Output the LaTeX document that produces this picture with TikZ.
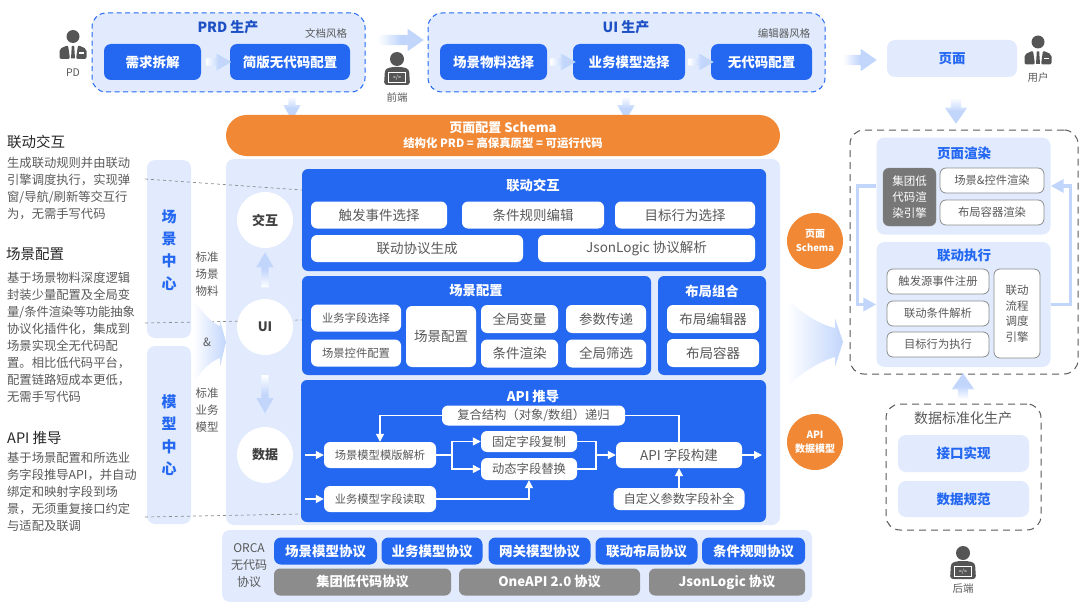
\documentclass[tikz,border=0pt]{standalone}
\usepackage{fontspec}
\setmainfont{Noto Sans CJK SC}
\usetikzlibrary{arrows.meta,shapes.arrows}
\definecolor{mainblue}{HTML}{2468F2}
\definecolor{darkblue}{HTML}{1C50C4}
\definecolor{paleblue}{HTML}{E1EBFD}
\definecolor{flowblue}{HTML}{C2D6FC}
\definecolor{mainorange}{HTML}{F08836}
\definecolor{textgray}{HTML}{595959}
\definecolor{boxgray}{HTML}{8C8C8C}
\definecolor{icongray}{HTML}{555555}
\tikzset{
  base/.style={rectangle,inner sep=0pt,align=center},
  panel/.style={base,rounded corners=8pt,fill=paleblue},
  bluebox/.style={base,rounded corners=7pt,fill=mainblue,text=white,font=\fontsize{13.5}{16}\selectfont\bfseries},
  whitebox/.style={base,rounded corners=6pt,fill=white,text=textgray,font=\fontsize{13.5}{16}\selectfont},
  smallbox/.style={whitebox,font=\fontsize{11.3}{14}\selectfont},
  midbox/.style={whitebox,font=\fontsize{12.3}{15}\selectfont},
  linebox/.style={smallbox,draw=boxgray,line width=0.8pt},
  graybox/.style={base,rounded corners=6pt,fill=boxgray,text=white,font=\fontsize{13.2}{15}\selectfont\bfseries},
  bluepanel/.style={base,rounded corners=6pt,fill=mainblue},
  dashblue/.style={panel,rounded corners=14pt,draw=mainblue,dash pattern=on 5pt off 3.5pt,line width=1pt},
  dashgray/.style={base,rounded corners=14pt,draw=textgray,dash pattern=on 7pt off 5pt,line width=1pt},
  title/.style={inner sep=0pt,text=white,font=\fontsize{13.3}{15}\selectfont\bfseries},
  bluetitle/.style={inner sep=0pt,text=mainblue,font=\fontsize{13.5}{16}\selectfont\bfseries},
  note/.style={inner sep=0pt,align=center,text=textgray,font=\fontsize{10.5}{17}\selectfont},
  lefthead/.style={inner sep=0pt,anchor=west,text=black!85,font=\fontsize{14.5}{17}\selectfont},
  leftbody/.style={inner sep=0pt,anchor=north west,align=left,text=textgray,font=\fontsize{12.3}{17}\selectfont},
  circ/.style={circle,inner sep=0pt,minimum size=56pt,fill=white,text=black!75,font=\fontsize{13}{16}\selectfont\bfseries},
  orangecirc/.style={circle,inner sep=0pt,minimum size=56pt,fill=mainorange,text=white,align=center,font=\fontsize{10}{14}\selectfont\bfseries},
  flow/.style={single arrow,draw=none,inner sep=3.5pt,single arrow head extend=5pt,single arrow tip angle=60},
  wide/.style={inner sep=5pt,single arrow head extend=6pt,single arrow tip angle=70},
  flowright/.style={flow,left color=white,right color=flowblue,middle color=flowblue},
  flowdown/.style={flow,shape border rotate=270,top color=white,bottom color=flowblue,middle color=flowblue},
  flowup/.style={flow,shape border rotate=90,bottom color=white,top color=flowblue,middle color=flowblue},
  leader/.style={draw=boxgray,dashed,line width=0.7pt},
  apiline/.style={draw=white,line width=1.3pt,-{Triangle[length=8pt,width=8pt]}},
  apijoin/.style={draw=white,line width=1.3pt},
  loopline/.style={draw=flowblue,line width=3.5pt,-{Triangle[length=13pt,width=13pt]}},
  suit/.pic={
    \fill[icongray] (0,-8.5) circle (6.5);
    \fill[icongray,rounded corners=2pt] (-13.5,14) -- (-13.5,4) -- (-5,0) -- (-3,14) -- cycle;
    \fill[icongray,rounded corners=2pt] (13.5,14) -- (13.5,4) -- (5,0) -- (3,14) -- cycle;
    \fill[icongray] (-1.2,1) -- (1.2,1) -- (2,13.5) -- (-2,13.5) -- cycle;
    \fill[white] (6,7.5) rectangle (10.5,9);
  },
  coder/.pic={
    \fill[icongray] (0,-11) circle (7);
    \fill[icongray,rounded corners=3pt] (-13,15) -- (-12,-1) -- (-5,-3) -- (5,-3) -- (12,-1) -- (13,15) -- cycle;
    \fill[white] (-9,2) rectangle (9,13);
    \fill[icongray] (-8,3) rectangle (8,12);
    \node[inner sep=0pt,text=white,font=\fontsize{5.5}{6}\selectfont] at (0,7.5) {</>};
  },
}
\begin{document}
\begin{tikzpicture}[x=1pt,y=-1pt]
  \useasboundingbox (0,0) rectangle (1080,602);
  % top row
  \node[dashblue,minimum width=273pt,minimum height=79pt] (prd) at (228.5,52.5) {};
  \node[dashblue,minimum width=397pt,minimum height=79pt] (uibox) at (626.5,52.5) {};
  \node[inner sep=0pt,text=darkblue,font=\fontsize{14}{16}\selectfont\bfseries] (prdtitle) at (228,27) {PRD 生产};
  \node[inner sep=0pt,text=darkblue,font=\fontsize{14}{16}\selectfont\bfseries] (uititle) at (626,27) {UI 生产};
  \node[note] (prdstyle) at (326,33) {文档风格};
  \node[note] (uistyle) at (784,33) {编辑器风格};
  \node[bluebox,minimum width=97pt,minimum height=36pt] (split) at (152.5,62) {需求拆解};
  \node[bluebox,minimum width=120pt,minimum height=36pt] (lite) at (290,62) {简版无代码配置};
  \node[bluebox,minimum width=107pt,minimum height=36pt] (scene) at (493.5,62) {场景物料选择};
  \node[bluebox,minimum width=112pt,minimum height=36pt] (model) at (629,62) {业务模型选择};
  \node[bluebox,minimum width=101pt,minimum height=36pt] (nocode) at (761.5,62) {无代码配置};
  \node[flowright,minimum height=25pt] (a1) at (215.5,62) {};
  \node[flowright,minimum height=25pt] (a2) at (560,62) {};
  \node[flowright,minimum height=25pt] (a3) at (698,62) {};
  \node[flowright,wide,minimum height=46pt] (a4) at (397,40) {};
  \node[flowright,wide,minimum height=34pt] (a5) at (856,60) {};
  \node[flowdown,minimum height=24pt] (a6) at (292,105) {};
  \node[flowdown,minimum height=24pt] (a7) at (626,105) {};
  \node[flowdown,wide,minimum height=26pt] (a8) at (956,107) {};
  \node[panel,minimum width=130pt,minimum height=37pt,text=mainblue,font=\fontsize{13.5}{16}\selectfont\bfseries] (page) at (952,58.5) {页面};
  \pic at (73,45) {suit};
  \node[note,font=\fontsize{10.5}{12}\selectfont] (pd) at (73,73) {PD};
  \pic at (397,70) {coder};
  \node[note] (fe) at (397,97) {前端};
  \pic at (1038,50.5) {suit};
  \node[note] (user) at (1038,78) {用户};
  % schema and main panel
  \node[base,rounded corners=20.5pt,fill=mainorange,text=white,minimum width=554pt,minimum height=41pt,font=\bfseries] (schema) at (503,135.5) {{\fontsize{13}{18}\selectfont 页面配置 Schema}\\[3pt]{\fontsize{11.4}{15}\selectfont 结构化 PRD = 高保真原型 = 可运行代码}};
  \node[panel,minimum width=554pt,minimum height=366pt] (main) at (503,342) {};
  % left column
  \node[panel,minimum width=44pt,minimum height=178pt] (scenehub) at (169,249) {};
  \node[panel,minimum width=44pt,minimum height=178pt] (modelhub) at (169,435) {};
  \coordinate (l1a) at (145,179); \coordinate (l1b) at (302,190);
  \coordinate (l2a) at (145,323); \coordinate (l2b) at (302,320);
  \coordinate (l3a) at (145,517); \coordinate (l3b) at (302,514);
  \draw[leader] (l1a) -- (l1b);
  \draw[leader] (l2a) -- (l2b);
  \draw[leader] (l3a) -- (l3b);
  \node[inner sep=0pt,align=center,text=mainblue,font=\fontsize{15}{22.4}\selectfont\bfseries] (scenetxt) at (169,250) {场\\景\\中\\心};
  \node[inner sep=0pt,align=center,text=mainblue,font=\fontsize{15}{22.4}\selectfont\bfseries] (modeltxt) at (169,435) {模\\型\\中\\心};
  \node[note,font=\fontsize{11.5}{17}\selectfont] (stdscene) at (207,274) {标准\\场景\\物料};
  \node[note,font=\fontsize{11.5}{17}\selectfont] (stdmodel) at (207,410) {标准\\业务\\模型};
  \shade[left color=white,right color=flowblue] (193,298) .. controls (202,312) and (210,322) .. (220,326) -- (220,320) -- (226,342) -- (220,367) -- (220,358) .. controls (209,362) and (200,372) .. (193,385) -- cycle;
  \node[note,font=\fontsize{11.5}{14}\selectfont] (amp) at (207,342) {\&};
  \node[lefthead] (h1) at (7,142) {联动交互};
  \node[leftbody] (b1) at (7,157) {生成联动规则并由联动\\引擎调度执行，实现弹\\窗/导航/刷新等交互行\\为，无需手写代码};
  \node[lefthead] (h2) at (6,254) {场景配置};
  \node[leftbody] (b2) at (7,272) {基于场景物料深度逻辑\\封装少量配置及全局变\\量/条件渲染等功能抽象\\协议化插件化，集成到\\场景实现全无代码配\\置。相比低代码平台，\\配置链路短成本更低，\\无需手写代码};
  \node[lefthead] (h3) at (7,438) {API 推导};
  \node[leftbody] (b3) at (7,452) {基于场景配置和所选业\\务字段推导API，并自动\\绑定和映射字段到场\\景，无须重复接口约定\\与适配及联调};
  % circles
  \node[circ] (c1) at (265,220) {交互};
  \node[circ] (c2) at (265,327) {UI};
  \node[circ] (c3) at (265,455) {数据};
  \node[flowup,minimum height=35pt] (a9) at (265,273) {};
  \node[flowdown,minimum height=38pt] (a10) at (265,391) {};
  % interaction panel
  \node[bluepanel,minimum width=464pt,minimum height=102pt] (link) at (534,220) {};
  \node[title] (linkt) at (533,185) {联动交互};
  \node[whitebox,minimum width=136pt,minimum height=27pt] (i1) at (379,215) {触发事件选择};
  \node[whitebox,minimum width=142pt,minimum height=27pt] (i2) at (533,215) {条件规则编辑};
  \node[whitebox,minimum width=140pt,minimum height=27pt] (i3) at (685,215) {目标行为选择};
  \node[whitebox,minimum width=212pt,minimum height=27pt] (i4) at (417,248.5) {联动协议生成};
  \node[whitebox,minimum width=217pt,minimum height=27pt] (i5) at (646.5,248.5) {JsonLogic 协议解析};
  % scene panel
  \node[bluepanel,minimum width=349pt,minimum height=99pt] (cfg) at (476.5,325.5) {};
  \node[title] (cfgt) at (476,291) {场景配置};
  \node[smallbox,minimum width=90pt,minimum height=27pt] (s1) at (356,318) {业务字段选择};
  \node[smallbox,minimum width=90pt,minimum height=27pt] (s2) at (356,353) {场景控件配置};
  \node[whitebox,minimum width=70pt,minimum height=61pt] (s3) at (441,336.5) {场景配置};
  \node[whitebox,minimum width=77pt,minimum height=28pt] (s4) at (519.5,319) {全局变量};
  \node[whitebox,minimum width=80pt,minimum height=28pt] (s5) at (606,319) {参数传递};
  \node[whitebox,minimum width=77pt,minimum height=28pt] (s6) at (519.5,353.5) {条件渲染};
  \node[whitebox,minimum width=80pt,minimum height=28pt] (s7) at (606,353.5) {全局筛选};
  % layout panel
  \node[bluepanel,minimum width=108pt,minimum height=99pt] (lay) at (712,325.5) {};
  \node[title] (layt) at (712,291) {布局组合};
  \node[whitebox,minimum width=92pt,minimum height=28pt] (y1) at (713,319) {布局编辑器};
  \node[whitebox,minimum width=92pt,minimum height=28pt] (y2) at (713,353) {布局容器};
  % api panel
  \node[bluepanel,minimum width=465pt,minimum height=142pt] (api) at (533.5,451) {};
  \node[title] (apit) at (533,396) {API 推导};
  \node[midbox,minimum width=183pt,minimum height=20pt] (recur) at (533.5,415.5) {复合结构（对象/数组）递归};
  \node[smallbox,minimum width=112pt,minimum height=26pt] (parse) at (380,455) {场景模型模版解析};
  \node[smallbox,minimum width=112pt,minimum height=26pt] (read) at (380,499) {业务模型字段读取};
  \node[midbox,minimum width=96pt,minimum height=21pt] (fix) at (529,441.5) {固定字段复制};
  \node[midbox,minimum width=96pt,minimum height=22pt] (dyn) at (529,469) {动态字段替换};
  \node[whitebox,minimum width=126pt,minimum height=26pt] (build) at (679,455) {API 字段构建};
  \node[midbox,minimum width=131pt,minimum height=22pt] (custom) at (679,499) {自定义参数字段补全};
  \coordinate (in1) at (305,455); \coordinate (in2) at (305,499);
  \coordinate (out) at (762,455); \coordinate (join) at (596,455);
  \coordinate (fork) at (452,455);
  \draw[apiline] (in1) -- (parse);
  \draw[apiline] (in2) -- (read);
  \draw[apiline] (build) -- (out);
  \draw[apijoin] (parse) -- (fork);
  \draw[apiline] (fork) |- (fix);
  \draw[apiline] (fork) |- (dyn);
  \draw[apijoin] (fix) -| (join);
  \draw[apijoin] (dyn) -| (join);
  \draw[apiline] (join) -- (build);
  \draw[apiline] (read) -| (dyn);
  \draw[apiline] (custom) -- (build);
  \draw[apijoin] (build) |- (recur);
  \draw[apiline] (recur) -| (parse);
  % protocols
  \node[panel,minimum width=590pt,minimum height=72pt] (proto) at (517,566) {};
  \node[note,font=\fontsize{12}{17}\selectfont] (orca) at (249,566) {ORCA\\无代码\\协议};
  \node[bluebox,minimum width=103pt,minimum height=27pt] (p1) at (325.5,551) {场景模型协议};
  \node[bluebox,minimum width=101pt,minimum height=27pt] (p2) at (432,551) {业务模型协议};
  \node[bluebox,minimum width=102pt,minimum height=27pt] (p3) at (539.5,551) {网关模型协议};
  \node[bluebox,minimum width=102pt,minimum height=27pt] (p4) at (646.5,551) {联动布局协议};
  \node[bluebox,minimum width=103pt,minimum height=27pt] (p5) at (753.5,551) {条件规则协议};
  \node[graybox,minimum width=177pt,minimum height=27pt] (g1) at (362.5,582) {集团低代码协议};
  \node[graybox,minimum width=181pt,minimum height=27pt] (g2) at (549.5,582) {OneAPI 2.0 协议};
  \node[graybox,minimum width=156pt,minimum height=27pt] (g3) at (727,582) {JsonLogic 协议};
  % right side
  \node[orangecirc] (o1) at (815,241) {页面\\{\fontsize{9.5}{12}\selectfont Schema}};
  \node[orangecirc] (o2) at (815,442) {API\\数据模型};
  \shade[left color=white,right color=flowblue] (787,298) .. controls (800,312) and (818,324) .. (835,328) -- (835,318) -- (843,342) -- (835,367) -- (835,357) .. controls (818,362) and (800,374) .. (787,387) -- cycle;
  \node[dashgray,minimum width=228pt,minimum height=244pt] (runtime) at (964,252) {};
  \node[panel,minimum width=174pt,minimum height=97pt] (render) at (963.5,186) {};
  \node[panel,minimum width=174pt,minimum height=125pt] (exec) at (963.5,304.5) {};
  \draw[loopline] (render.west) -- ++(-19,0) |- (exec.west);
  \draw[loopline] (exec.east) -- ++(20,0) |- (render.east);
  \node[bluetitle] (rendert) at (964,153) {页面渲染};
  \node[bluetitle] (exect) at (964,255) {联动执行};
  \node[base,rounded corners=6pt,fill=boxgray!85!black,draw=boxgray,text=white,minimum width=53pt,minimum height=58pt,font=\fontsize{11.5}{16}\selectfont] (eng) at (909.5,197) {集团低\\代码渲\\染引擎};
  \node[linebox,minimum width=104pt,minimum height=25pt] (r1) at (992,180.5) {场景\&控件渲染};
  \node[linebox,minimum width=104pt,minimum height=25pt] (r2) at (992,212.5) {布局容器渲染};
  \node[linebox,minimum width=102pt,minimum height=25pt] (e1) at (938,281.5) {触发源事件注册};
  \node[linebox,minimum width=102pt,minimum height=25pt] (e2) at (938,313.5) {联动条件解析};
  \node[linebox,minimum width=102pt,minimum height=25pt] (e3) at (938,344.5) {目标行为执行};
  \node[linebox,minimum width=46pt,minimum height=89pt,font=\fontsize{11.5}{15.5}\selectfont] (e4) at (1017,313.5) {联动\\流程\\调度\\引擎};
  \node[flowup,wide,minimum height=26pt] (a11) at (963,390) {};
  \node[dashgray,minimum width=155pt,minimum height=126pt] (datastd) at (963.5,467) {};
  \node[note,font=\fontsize{14}{16}\selectfont] (datat) at (963,418) {数据标准化生产};
  \node[panel,minimum width=131pt,minimum height=37pt,text=mainblue,font=\fontsize{13.5}{16}\selectfont\bfseries] (impl) at (963.5,453.5) {接口实现};
  \node[panel,minimum width=131pt,minimum height=36pt,text=mainblue,font=\fontsize{13.5}{16}\selectfont\bfseries] (spec) at (963.5,499) {数据规范};
  \pic at (963,564) {coder};
  \node[note] (be) at (963,589) {后端};
\end{tikzpicture}
\end{document}
